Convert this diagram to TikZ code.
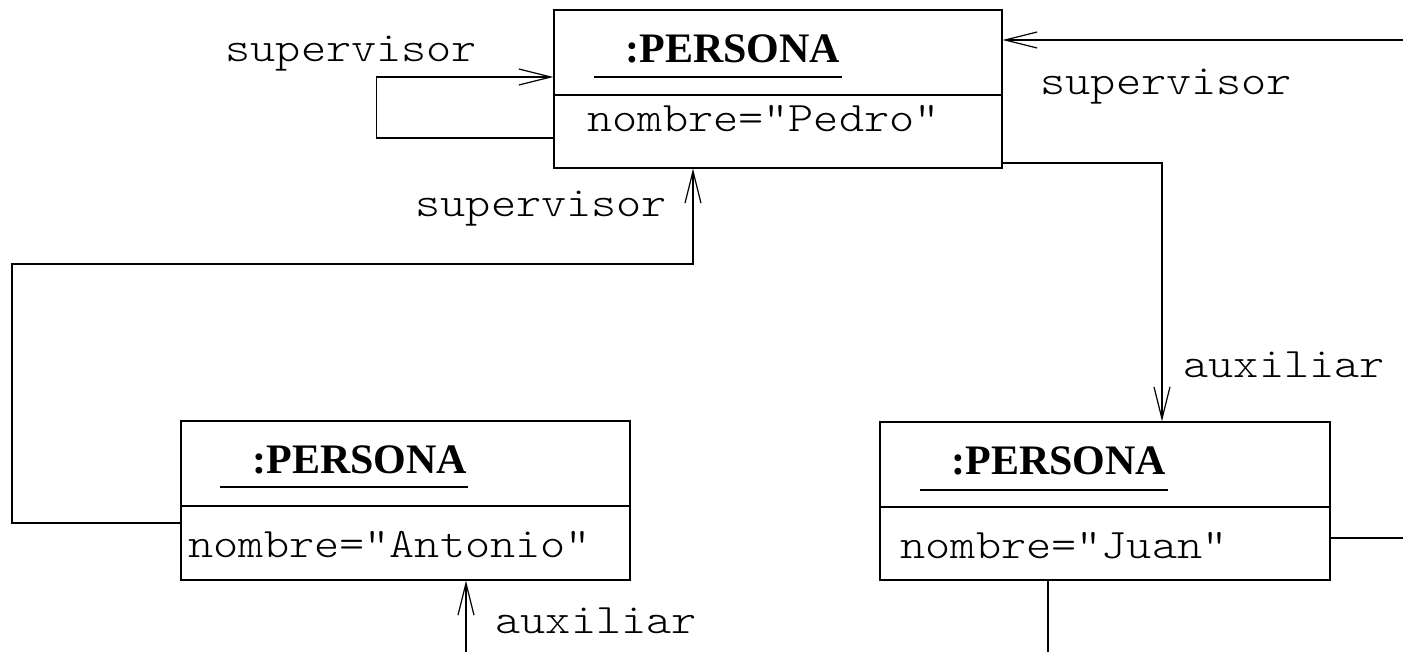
\documentclass[tikz,border=0pt]{standalone}
\usepackage{fontspec}
\usetikzlibrary{arrows.meta}
\newfontfamily\titlefont{Liberation Serif}
\newfontfamily\monofont{lmmonolt10-regular.otf}[FakeStretch=1.14]
\begin{document}
\begin{tikzpicture}[x=1pt,y=-1pt,
  line width=1.3pt,
  obj/.style={draw, rectangle, inner sep=0pt},
  divider/.style={line width=1.3pt},
  uline/.style={line width=1.3pt},
  ttl/.style={anchor=base west, inner sep=0pt, font=\titlefont\bfseries\fontsize{42}{48}\selectfont},
  attr/.style={anchor=base west, inner sep=0pt, font=\monofont\fontsize{42}{48}\selectfont},
  role/.style={anchor=base west, inner sep=0pt, font=\monofont\fontsize{42}{48}\selectfont},
  assoc/.style={-{Straight Barb[length=32pt,width=16pt,line width=1.2pt]}},
]
\useasboundingbox (0,0) rectangle (1403,652);

% object boxes
\node[obj, minimum width=448pt, minimum height=158pt] (pedro) at (778,89) {};
\node[obj, minimum width=449pt, minimum height=159pt] (antonio) at (405.5,500.5) {};
\node[obj, minimum width=450pt, minimum height=158pt] (juan) at (1105,501) {};

% compartment dividers
\draw[divider] (pedro.west |- 0,95) -- (pedro.east |- 0,95);
\draw[divider] (antonio.west |- 0,506) -- (antonio.east |- 0,506);
\draw[divider] (juan.west |- 0,507) -- (juan.east |- 0,507);

% object names, underlined
\node[ttl] (pedroT) at (625,63) {:PERSONA};
\draw[uline] (594,77) -- (842,77);
\node[ttl] (antonioT) at (252,473) {:PERSONA};
\draw[uline] (220,487) -- (468,487);
\node[ttl] (juanT) at (951,474) {:PERSONA};
\draw[uline] (920,490) -- (1168,490);

% attribute values
\node[attr] (pedroA) at (587,132) {nombre="Pedro"};
\node[attr] (antonioA) at (188,557) {nombre="Antonio"};
\node[attr] (juanA) at (900,558) {nombre="Juan"};

% free ends
\coordinate (inR) at (1403,40);
\coordinate (bendA) at (12,264);
\coordinate (inB) at (466,652);
\coordinate (outR) at (1403,538);
\coordinate (outB) at (1048,652);

% links
\draw[assoc] ([yshift=-49pt]pedro.west) -- ++(-177,0) |- ([yshift=12pt]pedro.west);
\draw[assoc] (inR) -- (pedro.east |- inR);
\draw[assoc] ([yshift=-74pt]pedro.east) -| ([xshift=57pt]juan.north);
\draw[assoc] ([yshift=-22.5pt]antonio.west) -| (bendA) -| ([xshift=-85pt]pedro.south);
\draw[assoc] (inB) -- (inB |- antonio.south);
\draw (juan.east |- outR) -- (outR);
\draw (outB |- juan.south) -- (outB);

% role names
\node[role] (r1) at (225,62) {supervisor};
\node[role] (r2) at (1040,95) {supervisor};
\node[role] (r3) at (415,217) {supervisor};
\node[role] (r4) at (1183,377) {auxiliar};
\node[role] (r5) at (495,633) {auxiliar};
\end{tikzpicture}
\end{document}
